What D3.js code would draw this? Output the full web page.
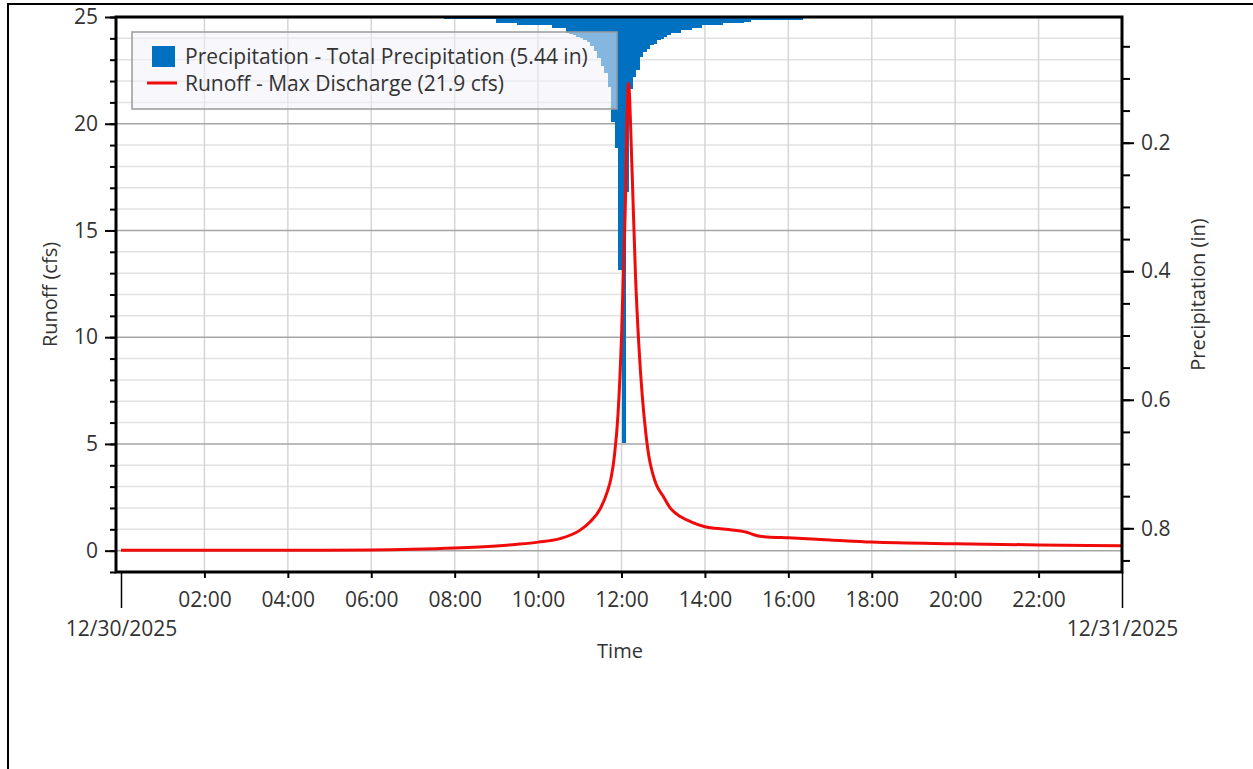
<!DOCTYPE html>
<html>
<head>
<meta charset="utf-8">
<script src="https://cdn.jsdelivr.net/npm/d3@7"></script>
<style>
  body { margin: 0; background: #fff; }
  text { font-family: "Open Sans", sans-serif; fill: #333; }
</style>
</head>
<body>
<svg></svg>
<script>
var width = 1253
var height = 769

// precipitation depths (in) per 5-minute step, starting 12/30/2025 07:45
var precipStart = Date.UTC(2025, 11, 30, 7, 45)
var precipStepMin = 5
var precipDepth = [
	0.008, 0.008, 0.008, 0.008, 0.008, 0.008, 0.008, 0.008, 0.008, 0.008,
	0.008, 0.008, 0.008, 0.008, 0.008, 0.013, 0.013, 0.013, 0.013, 0.013,
	0.013, 0.017, 0.017, 0.017, 0.017, 0.017, 0.017, 0.017, 0.017, 0.017,
	0.017, 0.021, 0.021, 0.021, 0.021, 0.029, 0.031, 0.033, 0.035, 0.037,
	0.040, 0.044, 0.049, 0.058, 0.068, 0.080, 0.092, 0.113, 0.168, 0.208,
	0.398, 0.667, 0.277, 0.117, 0.098, 0.087, 0.067, 0.059, 0.054, 0.048,
	0.046, 0.040, 0.038, 0.035, 0.032, 0.029, 0.029, 0.029, 0.025, 0.025,
	0.025, 0.021, 0.021, 0.021, 0.017, 0.017, 0.017, 0.017, 0.017, 0.017,
	0.014, 0.014, 0.014, 0.014, 0.014, 0.014, 0.012, 0.012, 0.009, 0.009,
	0.009, 0.009, 0.009, 0.009, 0.009, 0.009, 0.009, 0.009, 0.009, 0.009,
	0.009, 0.009, 0.009
]

// runoff hydrograph (cfs)
var runoffTime = [
	'00:00', '02:00', '04:00', '06:00', '07:00', '08:00', '09:00', '09:30',
	'10:00', '10:30', '11:00', '11:15', '11:30', '11:40', '11:45', '11:50',
	'11:55', '12:00', '12:05', '12:10', '12:15', '12:20', '12:25', '12:30',
	'12:35', '12:40', '12:45', '12:50', '13:00', '13:10', '13:20', '13:40',
	'14:00', '14:30', '15:00', '15:15', '15:30', '16:00', '17:00', '18:00',
	'20:00', '22:00', '24:00'
]
var runoffCfs = [
	0.02, 0.02, 0.02, 0.03, 0.06, 0.12, 0.22, 0.30,
	0.40, 0.55, 0.95, 1.35, 2.0, 2.8, 3.4, 4.5,
	6.4, 10.0, 15.5, 21.9, 18.0, 13.0, 9.6, 7.2,
	5.5, 4.3, 3.6, 3.1, 2.55, 2.0, 1.7, 1.35,
	1.12, 1.0, 0.86, 0.70, 0.64, 0.60, 0.50, 0.40,
	0.32, 0.27, 0.23
]

var legendLabels = [
	'Precipitation - Total Precipitation (5.44 in)',
	'Runoff - Max Discharge (21.9 cfs)'
]

var runoffMajor = [0, 5, 10, 15, 20, 25]
var runoffMinor = d3.range(-1, 26)
var precipMajor = [0.2, 0.4, 0.6, 0.8]
var precipMinor = [0.05, 0.1, 0.15, 0.2, 0.25, 0.3, 0.35, 0.4, 0.45, 0.5, 0.55, 0.6, 0.65, 0.7, 0.75, 0.8, 0.85]

var day0 = Date.UTC(2025, 11, 30)
var hour = 3600 * 1000
function parseTime(s) {
	var p = s.split(':')
	return new Date(day0 + (+p[0]) * hour + (+p[1]) * 60000)
}

var plotL = 116, plotR = 1122, plotT = 17, plotB = 572
var fontSize = '21px'

var svg = d3.select('svg').attr('width', width).attr('height', height)

var x = d3.scaleUtc()
	.domain([new Date(day0), new Date(day0 + 24 * hour)])
	.range([121, 1122])
var yL = d3.scaleLinear().domain([-1, 25]).range([plotB, plotT])
var yR = d3.scaleLinear().domain([0.0044, 0.868]).range([plotT, plotB])

// outer frame
svg.append('path')
	.attr('d', 'M8,' + height + 'V4H' + width)
	.attr('fill', 'none').attr('stroke', '#000').attr('stroke-width', 2)

svg.append('defs').append('clipPath').attr('id', 'plotclip')
	.append('rect')
	.attr('x', plotL).attr('y', plotT)
	.attr('width', plotR - plotL).attr('height', plotB - plotT)

// grid
var grid = svg.append('g')
grid.selectAll('.minor').data(runoffMinor.filter(function(d) {return d % 5 != 0}))
	.enter().append('line')
	.attr('x1', plotL).attr('x2', plotR)
	.attr('y1', function(d) {return yL(d)}).attr('y2', function(d) {return yL(d)})
	.attr('stroke', '#e2e2e2').attr('stroke-width', 1.5)
var vTicks = d3.range(2, 24, 2).map(function(h) {return new Date(day0 + h * hour)})
grid.selectAll('.vgrid').data(vTicks)
	.enter().append('line')
	.attr('x1', function(d) {return x(d)}).attr('x2', function(d) {return x(d)})
	.attr('y1', plotT).attr('y2', plotB)
	.attr('stroke', '#d6d6d6').attr('stroke-width', 1.5)
grid.selectAll('.major').data(runoffMajor)
	.enter().append('line')
	.attr('x1', plotL).attr('x2', plotR)
	.attr('y1', function(d) {return yL(d)}).attr('y2', function(d) {return yL(d)})
	.attr('stroke', '#a6a6a6').attr('stroke-width', 1.5)

// precipitation bars hanging from the top
var precip = precipDepth.map(function(v, i) {
	var t0 = precipStart + i * precipStepMin * 60000
	return {t0: new Date(t0), t1: new Date(t0 + precipStepMin * 60000), v: v}
})
svg.append('g').attr('clip-path', 'url(#plotclip)')
	.selectAll('rect').data(precip)
	.enter().append('rect')
	.attr('x', function(d) {return x(d.t0)})
	.attr('width', function(d) {return x(d.t1) - x(d.t0) + 0.8})
	.attr('y', yR(0))
	.attr('height', function(d) {return yR(d.v) - yR(0)})
	.attr('fill', '#0070c0')
	.attr('shape-rendering', 'crispEdges')

// runoff line
var runoff = runoffTime.map(function(t, i) {return {t: parseTime(t), v: runoffCfs[i]}})
var line = d3.line()
	.x(function(d) {return x(d.t)})
	.y(function(d) {return yL(d.v)})
	.curve(d3.curveMonotoneX)
svg.append('path').datum(runoff)
	.attr('clip-path', 'url(#plotclip)')
	.attr('d', line)
	.attr('fill', 'none')
	.attr('stroke', '#f00b0b')
	.attr('stroke-width', 3)
	.attr('stroke-linejoin', 'round')

// legend
var legend = svg.append('g')
legend.append('rect')
	.attr('x', 132).attr('y', 32).attr('width', 485).attr('height', 77)
	.attr('fill', 'rgb(240,240,250)').attr('fill-opacity', 0.55)
	.attr('stroke', '#9a9a9a').attr('stroke-width', 1.5)
legend.append('rect')
	.attr('x', 152).attr('y', 46).attr('width', 23).attr('height', 21)
	.attr('fill', '#0070c0')
legend.append('line')
	.attr('x1', 147).attr('x2', 177).attr('y1', 83).attr('y2', 83)
	.attr('stroke', '#f00b0b').attr('stroke-width', 3)
legend.selectAll('text').data(legendLabels)
	.enter().append('text')
	.attr('x', 185)
	.attr('y', function(d, i) {return 57 + i * 27})
	.attr('dy', '0.35em')
	.style('font-size', fontSize)
	.text(function(d) {return d})

// plot frame
svg.append('rect')
	.attr('x', plotL).attr('y', plotT)
	.attr('width', plotR - plotL).attr('height', plotB - plotT)
	.attr('fill', 'none').attr('stroke', '#000').attr('stroke-width', 3)

function styleAxis(g) {
	g.select('.domain').remove()
	g.selectAll('.tick line').attr('stroke', '#000').attr('stroke-width', 2)
	g.selectAll('text').attr('fill', '#333').style('font-size', fontSize)
		.style('font-family', '"Open Sans", sans-serif')
}

// left axis
svg.append('g').attr('transform', 'translate(' + plotL + ',0)')
	.call(d3.axisLeft(yL).tickValues(runoffMinor).tickSize(6).tickFormat(''))
	.call(styleAxis)
svg.append('g').attr('transform', 'translate(' + plotL + ',0)')
	.call(d3.axisLeft(yL).tickValues(runoffMajor).tickSize(11).tickPadding(7))
	.call(styleAxis)

// right axis
svg.append('g').attr('transform', 'translate(' + plotR + ',0)')
	.call(d3.axisRight(yR).tickValues(precipMinor).tickSize(8).tickFormat(''))
	.call(styleAxis)
svg.append('g').attr('transform', 'translate(' + plotR + ',0)')
	.call(d3.axisRight(yR).tickValues(precipMajor).tickSize(12).tickPadding(7).tickFormat(d3.format('.1f')))
	.call(styleAxis)

// bottom axis
svg.append('g').attr('transform', 'translate(0,' + plotB + ')')
	.call(d3.axisBottom(x).tickValues(vTicks).tickSize(6).tickPadding(14).tickFormat(d3.utcFormat('%H:%M')))
	.call(styleAxis)
svg.append('g').attr('transform', 'translate(0,' + plotB + ')')
	.call(d3.axisBottom(x).tickValues(x.domain()).tickSize(36).tickPadding(13).tickFormat(d3.utcFormat('%m/%d/%Y')))
	.call(styleAxis)
	.selectAll('.tick line').attr('stroke-width', 1.5)

// axis titles
svg.append('text')
	.attr('transform', 'translate(50,' + ((plotT + plotB) / 2) + ') rotate(-90)')
	.attr('text-anchor', 'middle').attr('dy', '0.35em')
	.style('font-size', '20px')
	.text('Runoff (cfs)')
svg.append('text')
	.attr('transform', 'translate(1198,' + ((plotT + plotB) / 2) + ') rotate(-90)')
	.attr('text-anchor', 'middle').attr('dy', '0.35em')
	.style('font-size', '20px')
	.text('Precipitation (in)')
svg.append('text')
	.attr('x', 620).attr('y', 651)
	.attr('text-anchor', 'middle').attr('dy', '0.35em')
	.style('font-size', '20px')
	.text('Time')
</script>
</body>
</html>
